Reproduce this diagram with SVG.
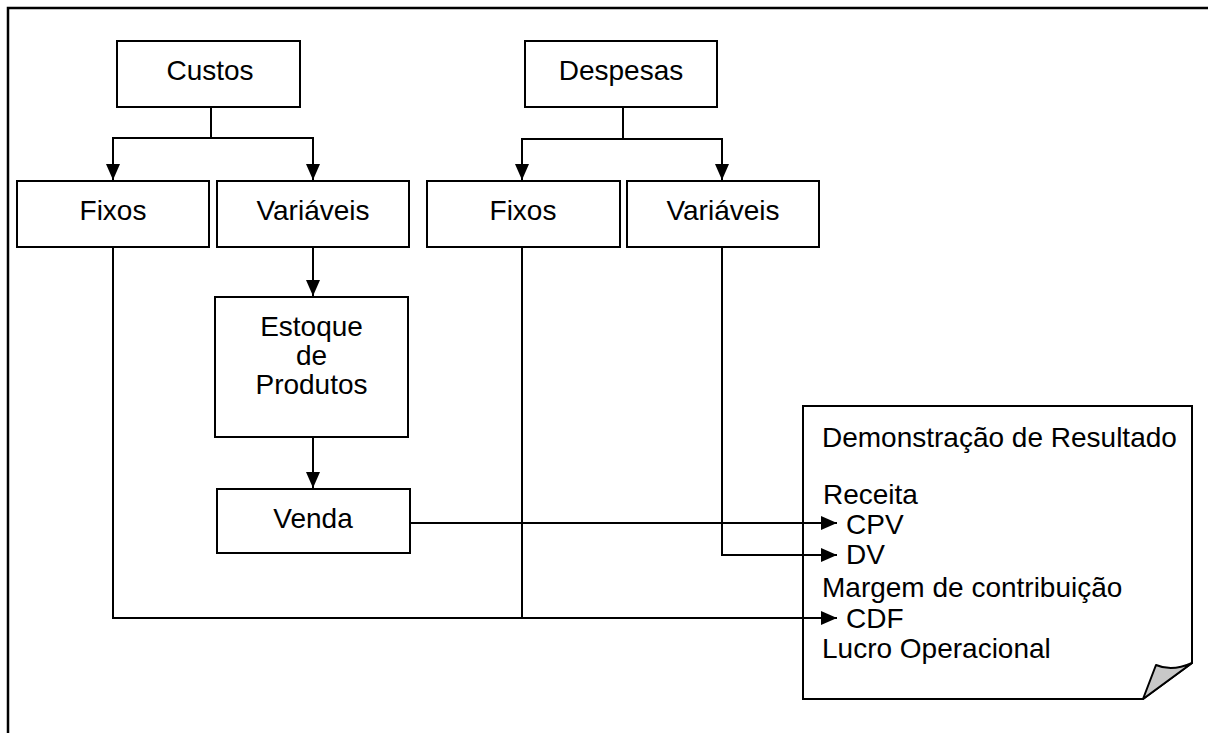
<svg xmlns="http://www.w3.org/2000/svg" width="1208" height="733" viewBox="0 0 1208 733">
<style>
.box{fill:#fff;stroke:#000;stroke-width:2}
.lbl{font-family:"Liberation Sans",Arial,sans-serif;font-size:28px;fill:#000}
.c{text-anchor:middle}
.con{fill:none;stroke:#000;stroke-width:2}
</style>
<defs>
<marker id="ah" markerUnits="userSpaceOnUse" markerWidth="17" markerHeight="15" refX="16" refY="7" orient="auto">
<path d="M0,0 L16,7 L0,14 Z" fill="#000"/>
</marker>
</defs>
<rect width="1208" height="733" fill="#fff"/>
<path d="M8,733 V8 H1208" fill="none" stroke="#000" stroke-width="2.5"/>
<g id="custos"><rect class="box" x="117" y="41" width="183" height="66"/><text class="lbl c" x="210" y="80">Custos</text></g>
<g id="despesas"><rect class="box" x="525" y="41" width="192" height="66"/><text class="lbl c" x="621" y="80">Despesas</text></g>
<g id="custos-fixos"><rect class="box" x="17" y="181" width="192" height="66"/><text class="lbl c" x="113" y="220">Fixos</text></g>
<g id="custos-variaveis"><rect class="box" x="217" y="181" width="192" height="66"/><text class="lbl c" x="313" y="220">Variáveis</text></g>
<g id="despesas-fixos"><rect class="box" x="427" y="181" width="193" height="66"/><text class="lbl c" x="523" y="220">Fixos</text></g>
<g id="despesas-variaveis"><rect class="box" x="627" y="181" width="192" height="66"/><text class="lbl c" x="723" y="220">Variáveis</text></g>
<g id="estoque"><rect class="box" x="215" y="297" width="193" height="140"/><text class="lbl c" x="311.5" y="336">Estoque</text><text class="lbl c" x="311.5" y="365">de</text><text class="lbl c" x="311.5" y="394">Produtos</text></g>
<g id="venda"><rect class="box" x="217" y="489" width="193" height="64"/><text class="lbl c" x="313" y="528">Venda</text></g>
<g id="demonstracao">
<path class="box" d="M803,406 H1192 V663 L1143,699 H803 Z"/>
<path d="M1143,699 L1156,665 Q1172,672 1192,663 Z" fill="#c8c8c8" stroke="#000" stroke-width="2" stroke-linejoin="round"/>
<text class="lbl" x="822" y="447">Demonstração de Resultado</text>
<text class="lbl" x="823" y="504">Receita</text>
<text class="lbl" x="846" y="534">CPV</text>
<text class="lbl" x="846" y="564">DV</text>
<text class="lbl" x="822" y="597">Margem de contribuição</text>
<text class="lbl" x="846" y="628">CDF</text>
<text class="lbl" x="822" y="658">Lucro Operacional</text>
</g>
<g id="connectors">
<path class="con" d="M211,107 V138 H113 V180" marker-end="url(#ah)"/>
<path class="con" d="M211,107 V138 H313 V180" marker-end="url(#ah)"/>
<path class="con" d="M623,107 V139 H522 V180" marker-end="url(#ah)"/>
<path class="con" d="M623,107 V139 H722 V180" marker-end="url(#ah)"/>
<path class="con" d="M313,247 V296" marker-end="url(#ah)"/>
<path class="con" d="M313,437 V488" marker-end="url(#ah)"/>
<path class="con" d="M410,523 H837" marker-end="url(#ah)"/>
<path class="con" d="M722,247 V555 H837" marker-end="url(#ah)"/>
<path class="con" d="M113,247 V618 H837" marker-end="url(#ah)"/>
<path class="con" d="M522,247 V618"/>
</g>
</svg>
